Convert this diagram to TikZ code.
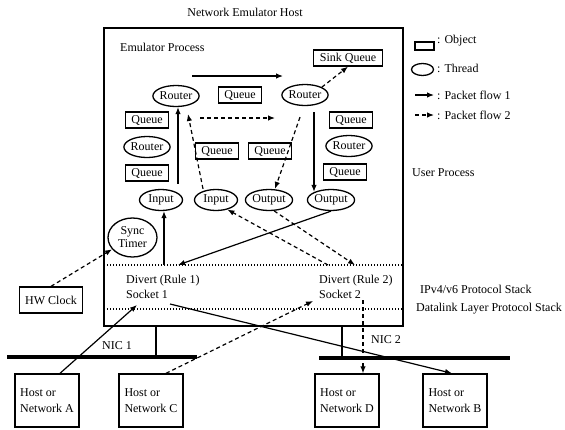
\documentclass[tikz,border=0pt]{standalone}
\usepackage{fontspec}
\setmainfont{Liberation Serif}
\usetikzlibrary{arrows.meta,shapes.geometric}
\begin{document}
\begin{tikzpicture}[x=1pt,y=-1pt,
  every node/.style={font=\fontsize{12}{15}\selectfont},
  lbl/.style={inner sep=0pt},
  obj/.style={draw,line width=1.3pt,minimum height=16pt,inner xsep=6pt,inner ysep=0pt},
  thr/.style={ellipse,draw,line width=1.3pt,minimum width=43pt,minimum height=21pt,inner sep=0pt},
  hostbox/.style={draw,line width=1.4pt,align=left,inner sep=0pt,minimum width=64pt,minimum height=53pt,font=\fontsize{12}{16}\selectfont},
  flowA/.style={-{Latex[length=7pt,width=5.5pt]},line width=1.2pt},
  flowB/.style={flowA,dash pattern=on 4pt off 3pt},
  layer/.style={line width=1.2pt,dash pattern=on 1.2pt off 1.8pt},
  bus/.style={line width=4pt},
  ]
\useasboundingbox (0,0) rectangle (565,429);

% host and emulator process
\node[lbl] (title) at (245,12) {Network Emulator Host};
\node[draw,line width=1.4pt,minimum width=299pt,minimum height=298pt,inner sep=0pt] (host) at (253.5,177) {};
\node[lbl,anchor=west] (emu) at (120,47) {Emulator Process};

% objects and threads
\node[obj] (sinkq) at (348,58) {Sink Queue};
\node[thr] (r1) at (176,96) {Router};
\node[obj] (qm) at (240,95) {Queue};
\node[thr] (r2) at (305,95) {Router};
\node[obj] (ql1) at (147,120) {Queue};
\node[thr] (rl) at (147,147) {Router};
\node[obj] (ql2) at (147,173) {Queue};
\node[obj] (qr1) at (351,120) {Queue};
\node[thr] (rr) at (349,146) {Router};
\node[obj] (qr2) at (345,172) {Queue};
\node[obj] (qc1) at (217,151) {Queue};
\node[obj] (qc2) at (270,151) {Queue};
\node[thr] (i1) at (161,200) {Input};
\node[thr] (i2) at (216,200) {Input};
\node[thr] (o1) at (269,200) {Output};
\node[thr] (o2) at (331,200) {Output};
\node[thr,minimum width=49pt,minimum height=39pt,align=center,font=\fontsize{12}{13}\selectfont] (sync) at (132.5,237.5) {Sync\\Timer};
\node[obj,minimum height=26pt] (hw) at (51,300) {HW Clock};

% protocol stack layers
\draw[layer] (104,265) -- (403,265);
\draw[layer] (104,309) -- (403,309);
\node[lbl,anchor=west,align=left] (div1) at (126,286.5) {Divert (Rule 1)\\Socket 1};
\node[lbl,anchor=west,align=left] (div2) at (319,286.5) {Divert (Rule 2)\\Socket 2};
\node[lbl,anchor=west] (upl) at (412,173) {User Process};
\node[lbl,anchor=west] (ipst) at (420,289) {IPv4/v6 Protocol Stack};
\node[lbl,anchor=west] (dlst) at (416,309) {Datalink Layer Protocol Stack};

% network interfaces and buses
\coordinate (nic1) at (156,357);
\coordinate (nic2) at (342,358);
\draw[line width=1.2pt] (host.south -| nic1) -- (nic1);
\draw[line width=1.2pt] (host.south -| nic2) -- (nic2);
\draw[bus] (7,357) -- (197,357);
\draw[bus] (319,358) -- (510,358);
\node[lbl] (nic1l) at (117,346) {NIC 1};
\node[lbl,anchor=west] (nic2l) at (371,340) {NIC 2};

% end hosts
\node[hostbox] (hA) at (47,400.5) {Host or\\Network A};
\node[hostbox] (hC) at (151,400.5) {Host or\\Network C};
\node[hostbox] (hD) at (347,400.5) {Host or\\Network D};
\node[hostbox] (hB) at (455,400.5) {Host or\\Network B};

% free ends of packet flows
\coordinate (topL) at (192,76);
\coordinate (topR) at (283,76);
\coordinate (midL) at (200,118);
\coordinate (midR) at (275,118);
\coordinate (upT) at (188,114);
\coordinate (s1a) at (164,265);
\coordinate (s1b) at (178,265);
\coordinate (s2a) at (328,265);
\coordinate (s2b) at (355,265);
\coordinate (sock1in) at (137,305);
\coordinate (sock1out) at (170,304);
\coordinate (sock2in) at (313,301);
\coordinate (sock2out) at (363,300);

% packet flow 1
\draw[flowA] (topL) -- (topR);
\draw[flowA] ([xshift=17pt,yshift=5pt]i1.north) -- ([xshift=2pt]r1.south);
\draw[flowA] ([xshift=9pt,yshift=-6pt]r2.south) -- ([xshift=-17pt,yshift=-3pt]o2.north);
\draw[flowA] (s1a) -- (i1.south -| s1a);
\draw[flowA] (o2.south) -- (s1b);
\draw[flowA] ([xshift=13pt]hA.north) -- (sock1in);
\draw[flowA] (sock1out) -- ([xshift=-3pt]hB.north);

% packet flow 2
\draw[flowB] (midL) -- (midR);
\draw[flowB] ([xshift=-13pt]i2.north) -- (upT);
\draw[flowB] ([xshift=-5pt,yshift=-11pt]r2.south) -- ([xshift=6pt]o1.north);
\draw[flowB] (r2.25) -- (sinkq.south);
\draw[flowB] (s2a) -- (i2.-40);
\draw[flowB] (o1.-65) -- (s2b);
\draw[flowB] ([xshift=15pt]hC.north) -- (sock2in);
\draw[flowB] (sock2out) -- (hD.north -| sock2out);
\draw[flowB] (hw.north) -- (sync.210);

% legend
\node[draw,line width=1.3pt,minimum width=19pt,minimum height=8pt,inner sep=0pt] (lgobj) at (424.5,46) {};
\node[lbl,anchor=west] (lgobjt) at (437,41) {: Object};
\node[ellipse,draw,line width=1.3pt,minimum width=22pt,minimum height=12pt,inner sep=0pt] (lgthr) at (422.5,69.5) {};
\node[lbl,anchor=west] (lgthrt) at (437,68) {: Thread};
\coordinate (lgA1) at (415,95);
\coordinate (lgA2) at (434,95);
\coordinate (lgB1) at (415,115);
\coordinate (lgB2) at (434,115);
\draw[flowA] (lgA1) -- (lgA2);
\draw[flowB] (lgB1) -- (lgB2);
\node[lbl,anchor=west] (lgAt) at (437,95) {: Packet flow 1};
\node[lbl,anchor=west] (lgBt) at (437,115) {: Packet flow 2};
\end{tikzpicture}
\end{document}
